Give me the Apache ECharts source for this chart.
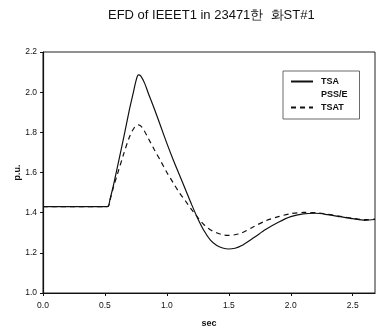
<!DOCTYPE html>
<html>
<head>
<meta charset="utf-8">
<script src="https://cdn.jsdelivr.net/npm/echarts@6/dist/echarts.min.js"></script>
<style>
  html, body { margin: 0; padding: 0; background: #fff; }
  #chart { width: 377px; height: 335px; }
</style>
</head>
<body>
<div id="chart"></div>
<script>
// time (sec) and values (p.u.)
const tsaTime = [0, 0.5, 0.527, 0.54, 0.57, 0.6, 0.65, 0.7, 0.73, 0.75, 0.77, 0.79, 0.82, 0.85, 0.9, 0.95, 1.0, 1.05, 1.1, 1.15, 1.2, 1.25, 1.3, 1.35, 1.4, 1.45, 1.5, 1.55, 1.6, 1.7, 1.8, 1.9, 2.0, 2.1, 2.2, 2.3, 2.4, 2.5, 2.6, 2.68];
const tsaValue = [1.43, 1.43, 1.432, 1.464, 1.54, 1.625, 1.77, 1.92, 2.0, 2.055, 2.086, 2.08, 2.045, 1.995, 1.915, 1.83, 1.745, 1.665, 1.59, 1.515, 1.44, 1.37, 1.31, 1.265, 1.238, 1.224, 1.219, 1.223, 1.235, 1.275, 1.317, 1.352, 1.38, 1.394, 1.397, 1.39, 1.38, 1.37, 1.362, 1.366];

const tsatTime = [0, 0.5, 0.527, 0.54, 0.57, 0.6, 0.65, 0.7, 0.74, 0.77, 0.8, 0.85, 0.9, 0.95, 1.0, 1.05, 1.1, 1.15, 1.2, 1.25, 1.3, 1.35, 1.4, 1.45, 1.5, 1.55, 1.6, 1.7, 1.8, 1.9, 2.0, 2.1, 2.2, 2.3, 2.4, 2.5, 2.6, 2.68];
const tsatValue = [1.43, 1.43, 1.432, 1.46, 1.53, 1.59, 1.69, 1.78, 1.826, 1.837, 1.825, 1.77, 1.712, 1.657, 1.6, 1.55, 1.5, 1.458, 1.415, 1.375, 1.34, 1.315, 1.3, 1.29, 1.287, 1.29, 1.298, 1.33, 1.36, 1.38, 1.395, 1.401, 1.4, 1.392, 1.382, 1.372, 1.365, 1.368];

const seriesNames = ["TSA", "PSS/E", "TSAT"];
const xTicks = [0, 0.5, 1.0, 1.5, 2.0, 2.5];

const pairs = (t, v) => t.map((x, i) => [x, v[i]]);
const font = "Liberation Sans, Arial";

const chart = echarts.init(document.getElementById("chart"));

chart.setOption({
  animation: false,
  backgroundColor: "#fff",
  title: {
    text: "EFD of IEEET1 in 23471한  화ST#1",
    left: 103,
    top: 4,
    textStyle: { fontFamily: font, fontSize: 13, fontWeight: "normal", color: "#111" },
  },
  legend: {
    data: [
      { name: "TSA" },
      { name: "PSS/E", lineStyle: { opacity: 0 } },
      { name: "TSAT" },
    ],
    orient: "vertical",
    left: 283,
    top: 71,
    itemWidth: 22,
    itemHeight: 8,
    itemGap: 4,
    padding: [6, 12, 7, 7],
    borderColor: "#444",
    borderWidth: 0.8,
    itemStyle: { opacity: 0 },
    textStyle: { fontFamily: font, fontSize: 9, fontWeight: "bold", color: "#111", padding: [0, 0, 0, 3] },
  },
  grid: {
    left: 43,
    right: 2,
    top: 52,
    bottom: 42,
    outerBoundsMode: "none",
    show: true,
    borderColor: "#222",
    borderWidth: 1,
  },
  xAxis: {
    type: "value",
    min: 0,
    max: 2.68,
    interval: 0.5,
    name: "sec",
    nameLocation: "middle",
    nameGap: 26,
    nameMoveOverlap: false,
    nameTextStyle: { fontFamily: font, fontSize: 9, fontWeight: "bold", color: "#111" },
    axisLine: { lineStyle: { color: "#111", width: 1.2 } },
    axisTick: { length: 3, lineStyle: { color: "#111" } },
    axisLabel: {
      fontFamily: font,
      fontSize: 8.5,
      color: "#111",
      margin: 8,
      showMaxLabel: false,
      formatter: (v) => (xTicks.includes(v) ? v.toFixed(1) : ""),
    },
    splitLine: { show: false },
  },
  yAxis: {
    type: "value",
    min: 1.0,
    max: 2.2,
    interval: 0.2,
    name: "p.u.",
    nameLocation: "middle",
    nameGap: 21,
    nameMoveOverlap: false,
    nameTextStyle: { fontFamily: font, fontSize: 9, fontWeight: "bold", color: "#111" },
    axisLine: { show: true, lineStyle: { color: "#111", width: 1.2 } },
    axisTick: { show: true, length: 3, lineStyle: { color: "#111" } },
    axisLabel: {
      fontFamily: font,
      fontSize: 8.5,
      color: "#111",
      margin: 6,
      formatter: (v) => v.toFixed(1),
    },
    splitLine: { show: false },
  },
  series: [
    {
      name: seriesNames[0],
      type: "line",
      smooth: 0.3,
      symbol: "none",
      data: pairs(tsaTime, tsaValue),
      lineStyle: { color: "#111", width: 1.2 },
      itemStyle: { color: "#111" },
    },
    {
      name: seriesNames[1],
      type: "line",
      symbol: "none",
      data: [],
      lineStyle: { color: "#111", width: 1.2 },
      itemStyle: { color: "#111" },
    },
    {
      name: seriesNames[2],
      type: "line",
      smooth: 0.3,
      symbol: "none",
      data: pairs(tsatTime, tsatValue),
      lineStyle: { color: "#111", width: 1.2, type: [5, 4] },
      itemStyle: { color: "#111" },
    },
  ],
});
</script>
</body>
</html>
